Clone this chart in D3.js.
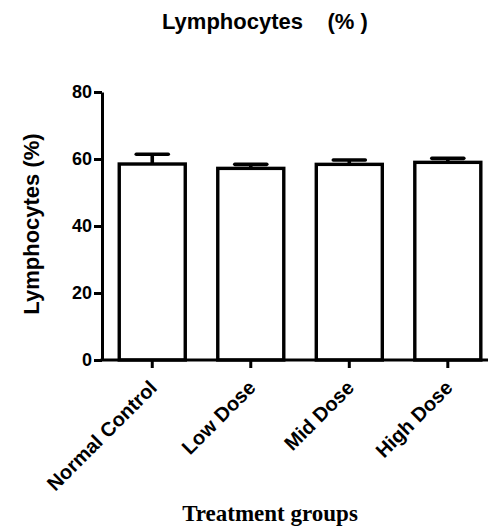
<!DOCTYPE html>
<html>
<head>
<meta charset="utf-8">
<script src="https://cdn.jsdelivr.net/npm/d3@7"></script>
<style>
  html, body { margin: 0; padding: 0; background: #fff; }
  svg { display: block; }
  text { fill: #000; }
</style>
</head>
<body>
<div id="chart"></div>
<script>
// Lymphocyte percentage per treatment group (mean with upper SEM bar)
const groups = ["Normal Control", "Low Dose", "Mid Dose", "High Dose"];
const means = [58.5, 57.2, 58.4, 59.0];
const errors = [2.9, 1.2, 1.3, 1.2];
const yTicks = [0, 20, 40, 60, 80];

const width = 498, height = 527;
const sans = "'Liberation Sans', Arial, Helvetica, sans-serif";
const serif = "'Liberation Serif', 'Times New Roman', serif";

const svg = d3.select("#chart").append("svg")
  .attr("width", width).attr("height", height);

const x = d3.scaleBand()
  .domain(groups)
  .range([102, 488])
  .paddingInner(0.33)
  .paddingOuter(0.124)
  .align(0.706);

const y = d3.scaleLinear().domain([0, 80]).range([360, 92]);

const data = groups.map((g, i) => ({ group: g, mean: means[i], err: errors[i] }));

// bars
svg.append("g").selectAll("rect").data(data).join("rect")
  .attr("x", d => x(d.group))
  .attr("y", d => y(d.mean))
  .attr("width", x.bandwidth())
  .attr("height", d => y(0) - y(d.mean))
  .attr("fill", "#fff")
  .attr("stroke", "#000")
  .attr("stroke-width", 3.4);

// upper error bars
const eb = svg.append("g").attr("stroke", "#000").attr("stroke-width", 3.6);
eb.selectAll("line.stem").data(data).join("line").attr("class", "stem")
  .attr("x1", d => x(d.group) + x.bandwidth() / 2)
  .attr("x2", d => x(d.group) + x.bandwidth() / 2)
  .attr("y1", d => y(d.mean))
  .attr("y2", d => y(d.mean + d.err));
eb.selectAll("line.cap").data(data).join("line").attr("class", "cap")
  .attr("stroke-linecap", "round")
  .attr("x1", d => x(d.group) + x.bandwidth() / 2 - 16)
  .attr("x2", d => x(d.group) + x.bandwidth() / 2 + 16)
  .attr("y1", d => y(d.mean + d.err))
  .attr("y2", d => y(d.mean + d.err));

// y axis
const yAxis = svg.append("g")
  .attr("transform", "translate(102,0)")
  .call(d3.axisLeft(y).tickValues(yTicks).tickSize(8).tickPadding(2).tickSizeOuter(0));
yAxis.select(".domain").attr("stroke-width", 3);
yAxis.selectAll(".tick line").attr("stroke-width", 3);
yAxis.selectAll(".tick text")
  .attr("font-family", sans).attr("font-size", 18).attr("font-weight", "bold");

// x axis
const xAxis = svg.append("g")
  .attr("transform", "translate(0,360)")
  .call(d3.axisBottom(x).tickSize(8).tickSizeOuter(0).tickFormat(""));
xAxis.select(".domain").remove();
xAxis.selectAll(".tick line").attr("stroke-width", 3);
svg.append("line")
  .attr("x1", 100.5).attr("x2", 488)
  .attr("y1", y(0)).attr("y2", y(0))
  .attr("stroke", "#000").attr("stroke-width", 3);

// rotated category labels
svg.append("g").selectAll("text").data(groups).join("text")
  .attr("transform", g => `translate(${x(g) + x.bandwidth() / 2 + 6},389) rotate(-45)`)
  .attr("text-anchor", "end")
  .attr("font-family", sans).attr("font-size", 20).attr("font-weight", "bold")
  .text(g => g);

// title
svg.append("text")
  .attr("x", 162).attr("y", 29)
  .attr("font-family", sans).attr("font-size", 22).attr("font-weight", "bold")
  .style("white-space", "pre")
  .text("Lymphocytes    (% )");

// y axis title
svg.append("text")
  .attr("transform", "translate(39,224) rotate(-90)")
  .attr("text-anchor", "middle")
  .attr("font-family", sans).attr("font-size", 22).attr("font-weight", "bold")
  .style("white-space", "pre")
  .text("Lymphocytes (%)");

// x axis title
svg.append("text")
  .attr("x", 270).attr("y", 521)
  .attr("text-anchor", "middle")
  .attr("font-family", serif).attr("font-size", 23).attr("font-weight", "bold")
  .text("Treatment groups");
</script>
</body>
</html>
